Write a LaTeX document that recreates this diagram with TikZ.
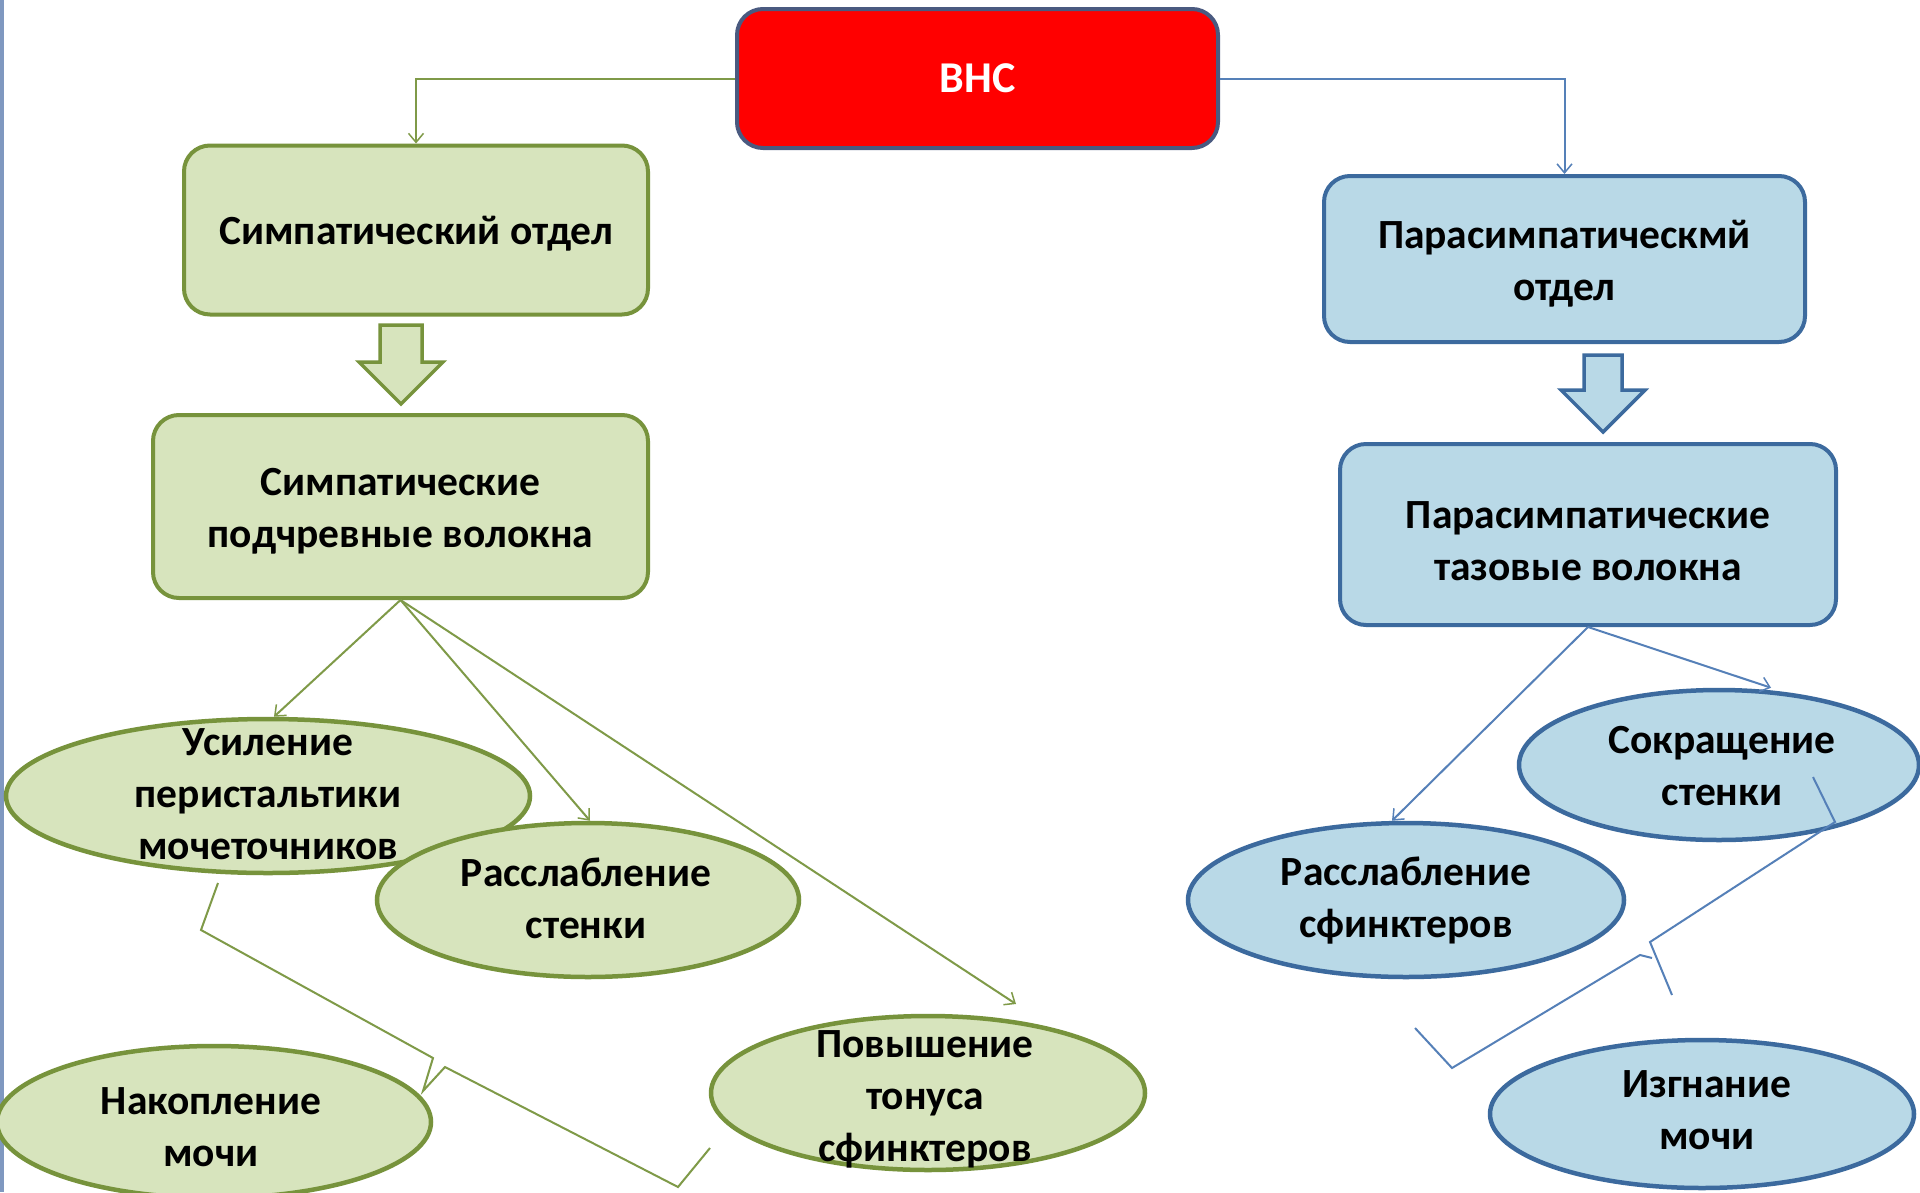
\documentclass[tikz,border=0pt]{standalone}
\usepackage{fontspec}
\setmainfont{Carlito}
\usetikzlibrary{arrows.meta,shapes.geometric}
\definecolor{gfill}{HTML}{D7E4BD}
\definecolor{gline}{HTML}{77933C}
\definecolor{gconn}{HTML}{7F9A48}
\definecolor{bfill}{HTML}{B9D9E7}
\definecolor{bline}{HTML}{3C6A9E}
\definecolor{bconn}{HTML}{5580B8}
\definecolor{redbox}{HTML}{FF0000}
\definecolor{redline}{HTML}{4A5A80}
\definecolor{edgecol}{HTML}{7F98C0}
\begin{document}
\begin{tikzpicture}[x=1pt,y=-1pt,
  txt/.style={font=\bfseries\fontsize{41.5}{52}\selectfont, align=center, text=black, inner sep=0pt},
  gbox/.style={draw=gline, fill=gfill, line width=4pt, rounded corners=26pt, inner sep=0pt},
  bbox/.style={draw=bline, fill=bfill, line width=4pt, rounded corners=26pt, inner sep=0pt},
  gell/.style={ellipse, draw=gline, fill=gfill, line width=4.5pt, inner sep=0pt},
  bell/.style={ellipse, draw=bline, fill=bfill, line width=4.5pt, inner sep=0pt},
  gcon/.style={draw=gconn, line width=2pt, -{Straight Barb[length=9pt,width=15pt,line width=1.5pt]}},
  bcon/.style={draw=bconn, line width=2pt, -{Straight Barb[length=9pt,width=15pt,line width=1.5pt]}},
  gbrace/.style={draw=gconn, line width=2pt, line join=miter},
  bbrace/.style={draw=bconn, line width=2pt, line join=miter}
]
\useasboundingbox (0,0) rectangle (1920,1192);
\fill[white] (0,0) rectangle (1920,1192);
\fill[edgecol] (0,0) rectangle (4,1192);

% top box
\node[draw=redline, fill=redbox, line width=4pt, rounded corners=26pt, minimum width=481pt, minimum height=139pt,
      font=\bfseries\fontsize{44}{52}\selectfont, text=white] (vns) at (977.5,78.5) {ВНС};

% second level boxes
\node[gbox, minimum width=464pt, minimum height=169pt] (so) at (416,230) {};
\node[txt] (sot) at (416,234) {Симпатический отдел};
\node[bbox, minimum width=481pt, minimum height=166pt] (po) at (1564.5,259) {};
\node[txt] (pot) at (1564.5,264) {Парасимпатическмй\\отдел};

% connectors from top
\draw[gcon] (vns.west) -| (so.north);
\draw[bcon] (vns.east) -| (po.north);

% block arrows
\draw[draw=gline, fill=gfill, line width=3.5pt, line join=miter]
  (380,325) -- (422,325) -- (422,362) -- (443,362) -- (401,404) -- (359,362) -- (380,362) -- cycle;
\draw[draw=bline, fill=bfill, line width=3.5pt, line join=miter]
  (1584,355) -- (1622,355) -- (1622,390) -- (1645,390) -- (1603,432) -- (1561,390) -- (1584,390) -- cycle;

% third level boxes
\node[gbox, minimum width=495pt, minimum height=183pt] (sp) at (400.5,506.5) {};
\node[txt] (spt) at (400.5,511) {Симпатические\\подчревные волокна};
\node[bbox, minimum width=496pt, minimum height=181pt] (ptv) at (1588,534.5) {};
\node[txt] (ptvt) at (1588,541) {Парасимпатические\\тазовые волокна};

% green ellipses
\node[gell, minimum width=434pt, minimum height=152pt] (nk) at (214,1122) {};
\node[txt] (nkt) at (211,1127) {Накопление\\мочи};
\node[gell, minimum width=434pt, minimum height=154pt] (pv) at (928,1093) {};
\node[txt] (pvt) at (925,1099) {Повышение\\тонуса\\сфинктеров};
\node[gell, minimum width=524pt, minimum height=154pt] (us) at (268,796) {};
\node[gell, minimum width=422pt, minimum height=154pt] (rs) at (588,900) {};
\node[txt] (ust) at (268,794) {Усиление\\перистальтики\\мочеточников};
\node[txt] (rst) at (586,898) {Расслабление\\стенки};

% blue ellipses
\node[bell, minimum width=400pt, minimum height=150pt] (sk) at (1719,765) {};
\node[txt] (skt) at (1722,766) {Сокращение\\стенки};
\node[bell, minimum width=436pt, minimum height=154pt] (rf) at (1406,900) {};
\node[txt] (rft) at (1406,901) {Расслабление\\сфинктеров};
\node[bell, minimum width=424pt, minimum height=148pt] (iz) at (1702,1114) {};
\node[txt] (izt) at (1707,1110) {Изгнание\\мочи};

% green arrows
\coordinate (pvin) at (1016,1004);
\draw[gcon] (sp.south) -- ([xshift=6pt]us.north);
\draw[gcon] (sp.south) -- ([xshift=2pt]rs.north);
\draw[gcon] (sp.south) -- (pvin);

% blue arrows
\draw[bcon] (ptv.south) -- ([xshift=-14pt]rf.north);
\draw[bcon] (ptv.south) -- ([xshift=52pt]sk.north);

% green brace
\draw[gbrace] (218,883) -- (201,930) -- (433,1058) -- (423,1091) -- (445,1067) -- (678,1187) -- (710,1148);
% blue brace
\draw[bbrace] (1813,777) -- (1835,822) -- (1650,942) -- (1672,995);
\draw[bbrace] (1652,958) -- (1640,955) -- (1452,1068) -- (1415,1028);
\end{tikzpicture}
\end{document}
